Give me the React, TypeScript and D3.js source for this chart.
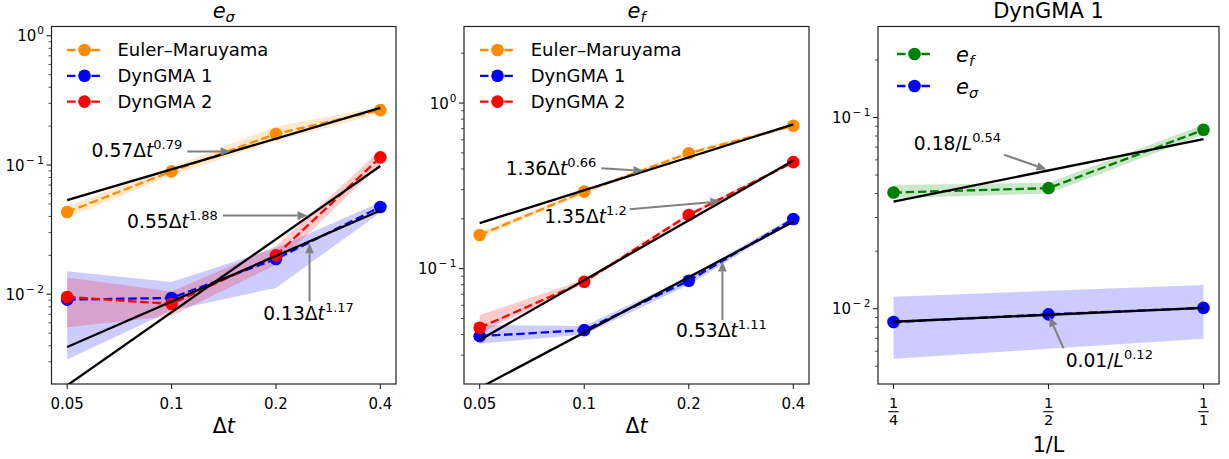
import React from 'react';
import * as d3 from 'd3';

// ---------------- data ----------------
const dt = [0.05, 0.1, 0.2, 0.4];
const dtTickLabels = ['0.05', '0.1', '0.2', '0.4'];
const invL = [0.25, 0.5, 1];
const invLNumerators = ['1', '1', '1'];
const invLDenominators = ['4', '2', '1'];
const dtFitEnds = [0.05, 0.4];
const invLFitEnds = [0.25, 1];

// e_sigma panel
const emSigma = [0.0433, 0.0893, 0.174, 0.266];
const emSigmaLo = [0.039, 0.083, 0.154, 0.25];
const emSigmaHi = [0.048, 0.096, 0.199, 0.283];
const dyn1Sigma = [0.00908, 0.00936, 0.01875, 0.0473];
const dyn1SigmaLo = [0.00312, 0.0075, 0.0112, 0.0428];
const dyn1SigmaHi = [0.01503, 0.01245, 0.0228, 0.0514];
const dyn2Sigma = [0.00953, 0.00841, 0.02, 0.1146];
const dyn2SigmaLo = [0.00555, 0.0068, 0.0169, 0.101];
const dyn2SigmaHi = [0.0135, 0.0105, 0.0235, 0.13];
const emSigmaFit = [0.0535, 0.2764];
const dyn2SigmaFit = [0.00197, 0.0982];
const dyn1SigmaFit = [0.00391, 0.0445];

// e_f panel
const emF = [0.1597, 0.292, 0.498, 0.729];
const emFLo = [0.153, 0.284, 0.485, 0.712];
const emFHi = [0.166, 0.3, 0.511, 0.746];
const dyn1F = [0.0391, 0.0425, 0.0845, 0.1995];
const dyn1FLo = [0.0352, 0.04, 0.08, 0.193];
const dyn1FHi = [0.0456, 0.045, 0.089, 0.206];
const dyn2F = [0.0439, 0.0833, 0.211, 0.4396];
const dyn2FLo = [0.0406, 0.081, 0.205, 0.43];
const dyn2FHi = [0.0524, 0.086, 0.217, 0.45];
const emFFit = [0.1884, 0.7429];
const dyn2FFit = [0.0371, 0.4496];
const dyn1FFit = [0.01906, 0.1917];

// DynGMA 1 vs 1/L panel
const efL = [0.0405, 0.0427, 0.0862];
const efLLo = [0.0379, 0.04, 0.0812];
const efLHi = [0.0444, 0.0456, 0.0916];
const esL = [0.00852, 0.00934, 0.0101];
const esLLo = [0.00547, 0.00617, 0.00697];
const esLHi = [0.01156, 0.01241, 0.0133];
const efLFit = [0.0363, 0.077];
const esLFit = [0.00855, 0.0101];

// fit labels
const sigmaFitCoefs = ['0.57', '0.55', '0.13'];
const sigmaFitExps = ['0.79', '1.88', '1.17'];
const fFitCoefs = ['1.36', '1.35', '0.53'];
const fFitExps = ['0.66', '1.2', '1.11'];
const lFitCoefs = ['0.18', '0.01'];
const lFitExps = ['0.54', '0.12'];

const methodNames = ['Euler\u2013Maruyama', 'DynGMA 1', 'DynGMA 2'];

// ---------------- style ----------------
const FONT = "'DejaVu Sans', sans-serif";
const ORANGE = '#ff8c00';
const BLUE = '#0000ff';
const RED = '#ff0000';
const GREEN = '#008000';
const ARROW = '#808080';
const TOP = 26.5;
const BOTTOM = 384;
const LW = 2.3;
const DASH = '8.5 3.7';
const MR = 6.3;

type Series = { color: string; v: number[]; lo: number[]; hi: number[] };
type Fit = { ys: number[] };
type Ann = {
  kind: 'dt' | 'L';
  coef: string;
  exp: string;
  target: [number, number];
  tail: [number, number];
  anchor: 'start' | 'middle' | 'end';
  dx: number;
  dy: number;
};
type LegendItem = { color: string; label: React.ReactNode };
type PanelCfg = {
  id: string;
  left: number;
  right: number;
  xs: number[];
  pad: number;
  yDomain: [number, number];
  series: Series[];
  fitXs: number[];
  fits: Fit[];
  anns: Ann[];
  legend: { items: LegendItem[]; x0: number; y0: number; step: number; fs: number; textDx: number };
  title: React.ReactNode;
  xlabel: React.ReactNode;
  xlabelY: number;
  fracTicks: boolean;
};

function AnnText({ a, x, y }: { a: Ann; x: number; y: number }) {
  return (
    <text x={x} y={y} textAnchor={a.anchor} fontFamily={FONT} fontSize={18.7} fill="#000">
      {a.kind === 'dt' ? (
        <>
          <tspan>{a.coef}Δ</tspan>
          <tspan fontStyle="italic">t</tspan>
        </>
      ) : (
        <>
          <tspan>{a.coef}/</tspan>
          <tspan fontStyle="italic">L</tspan>
        </>
      )}
      <tspan fontSize={13} dy={-7.8}>
        {a.exp}
      </tspan>
    </text>
  );
}

function Panel({ cfg }: { cfg: PanelCfg }) {
  const x = d3
    .scaleLog()
    .base(2)
    .domain([cfg.xs[0] / cfg.pad, cfg.xs[cfg.xs.length - 1] * cfg.pad])
    .range([cfg.left, cfg.right]);
  const y = d3.scaleLog().domain(cfg.yDomain).range([BOTTOM, TOP]);
  const xs = cfg.xs;

  const area = (s: Series) =>
    d3
      .area<number>()
      .x((_, i) => x(xs[i]))
      .y0((_, i) => y(s.lo[i]))
      .y1((_, i) => y(s.hi[i]))(s.v) as string;
  const line = (vals: number[], xv: number[]) =>
    d3
      .line<number>()
      .x((_, i) => x(xv[i]))
      .y((d) => y(d))(vals) as string;

  // y ticks
  const [ymin, ymax] = cfg.yDomain;
  const yTicks: { v: number; major: boolean; k: number }[] = [];
  for (let k = Math.floor(Math.log10(ymin)); k <= Math.ceil(Math.log10(ymax)); k++) {
    for (let m = 1; m <= 9; m++) {
      const v = m * Math.pow(10, k);
      if (v >= ymin && v <= ymax) yTicks.push({ v, major: m === 1, k });
    }
  }
  const cx = (cfg.left + cfg.right) / 2;
  const clipId = 'clip-' + cfg.id;

  return (
    <g>
      <defs>
        <clipPath id={clipId}>
          <rect x={cfg.left} y={TOP} width={cfg.right - cfg.left} height={BOTTOM - TOP} />
        </clipPath>
      </defs>
      <g clipPath={`url(#${clipId})`}>
        {cfg.series.map((s, i) => (
          <path key={'b' + i} d={area(s)} fill={s.color} fillOpacity={0.2} stroke="none" />
        ))}
        {cfg.series.map((s, i) => (
          <g key={'s' + i}>
            <path d={line(s.v, xs)} fill="none" stroke={s.color} strokeWidth={LW} strokeDasharray={DASH} />
            {s.v.map((d, j) => (
              <circle key={j} cx={x(xs[j])} cy={y(d)} r={MR} fill={s.color} />
            ))}
          </g>
        ))}
        {cfg.fits.map((f, i) => (
          <path key={'f' + i} d={line(f.ys, cfg.fitXs)} fill="none" stroke="#000" strokeWidth={LW} />
        ))}
      </g>
      {/* annotations */}
      {cfg.anns.map((a, i) => {
        const hx0 = x(a.target[0]);
        const hy0 = y(a.target[1]);
        const tx = x(a.tail[0]);
        const ty = y(a.tail[1]);
        const dxv = hx0 - tx;
        const dyv = hy0 - ty;
        const len = Math.hypot(dxv, dyv);
        const ux = dxv / len;
        const uy = dyv / len;
        const hx = hx0 - 2 * ux;
        const hy = hy0 - 2 * uy;
        const bx = hx - 10 * ux;
        const by = hy - 10 * uy;
        const nx = -uy;
        const ny = ux;
        const hw = 4.3;
        return (
          <g key={'a' + i}>
            <line x1={tx} y1={ty} x2={bx} y2={by} stroke={ARROW} strokeWidth={2} />
            <polygon
              points={`${hx},${hy} ${bx + hw * nx},${by + hw * ny} ${bx - hw * nx},${by - hw * ny}`}
              fill={ARROW}
            />
            <AnnText a={a} x={tx + a.dx} y={ty + a.dy} />
          </g>
        );
      })}
      {/* legend */}
      {cfg.legend.items.map((it, i) => {
        const ly = cfg.legend.y0 + i * cfg.legend.step;
        const x0 = cfg.legend.x0;
        return (
          <g key={'l' + i}>
            <line x1={x0} x2={x0 + 35} y1={ly} y2={ly} stroke={it.color} strokeWidth={LW} strokeDasharray={DASH} />
            <circle cx={x0 + 17.5} cy={ly} r={MR} fill={it.color} />
            <text
              x={x0 + cfg.legend.textDx}
              y={ly + cfg.legend.fs * 0.36}
              fontFamily={FONT}
              fontSize={cfg.legend.fs}
              fill="#000"
            >
              {it.label}
            </text>
          </g>
        );
      })}
      {/* spines */}
      <rect
        x={cfg.left}
        y={TOP}
        width={cfg.right - cfg.left}
        height={BOTTOM - TOP}
        fill="none"
        stroke="#222"
        strokeWidth={1.2}
      />
      {/* y ticks */}
      {yTicks.map((t, i) => (
        <g key={'yt' + i}>
          <line
            x1={cfg.left}
            x2={cfg.left - (t.major ? 5 : 3)}
            y1={y(t.v)}
            y2={y(t.v)}
            stroke="#222"
            strokeWidth={t.major ? 1.1 : 0.8}
          />
          {t.major && (
            <text x={cfg.left - 7.5} y={y(t.v) + 5.5} textAnchor="end" fontFamily={FONT} fontSize={15} fill="#000">
              <tspan>10</tspan>
              {t.k === 0 ? (
                <tspan fontSize={10.5} dx={1} dy={-7}>
                  0
                </tspan>
              ) : (
                <>
                  <tspan fontSize={10.5} dx={1.5} dy={-7}>
                    {'\u2212'}
                  </tspan>
                  <tspan fontSize={10.5} dx={2.5}>
                    {String(Math.abs(t.k))}
                  </tspan>
                </>
              )}
            </text>
          )}
        </g>
      ))}
      {/* x ticks */}
      {xs.map((v, i) => (
        <g key={'xt' + i}>
          <line x1={x(v)} x2={x(v)} y1={BOTTOM} y2={BOTTOM + 5} stroke="#222" strokeWidth={1.1} />
          {cfg.fracTicks ? (
            <g>
              <text x={x(v)} y={BOTTOM + 23.5} textAnchor="middle" fontFamily={FONT} fontSize={14.5} fill="#000">
                {invLNumerators[i]}
              </text>
              <line x1={x(v) - 5.2} x2={x(v) + 5.2} y1={BOTTOM + 27.7} y2={BOTTOM + 27.7} stroke="#000" strokeWidth={1.1} />
              <text x={x(v)} y={BOTTOM + 41} textAnchor="middle" fontFamily={FONT} fontSize={14.5} fill="#000">
                {invLDenominators[i]}
              </text>
            </g>
          ) : (
            <text x={x(v)} y={BOTTOM + 24.5} textAnchor="middle" fontFamily={FONT} fontSize={15} fill="#000">
              {dtTickLabels[i]}
            </text>
          )}
        </g>
      ))}
      {/* title */}
      <text x={cx} y={18} textAnchor="middle" fontFamily={FONT} fontSize={21} fill="#000">
        {cfg.title}
      </text>
      <text x={cx} y={cfg.xlabelY} textAnchor="middle" fontFamily={FONT} fontSize={20.5} fill="#000">
        {cfg.xlabel}
      </text>
    </g>
  );
}

const sigmaTitle = (
  <>
    <tspan fontStyle="italic">e</tspan>
    <tspan fontStyle="italic" fontSize={14.5} dy={3.5}>
      σ
    </tspan>
  </>
);
const fTitle = (
  <>
    <tspan fontStyle="italic">e</tspan>
    <tspan fontStyle="italic" fontSize={14.5} dy={3.5}>
      f
    </tspan>
  </>
);
const dtLabel = (
  <>
    <tspan>Δ</tspan>
    <tspan fontStyle="italic">t</tspan>
  </>
);

const panels: PanelCfg[] = [
  {
    id: 'sigma',
    left: 51.5,
    right: 396,
    xs: dt,
    pad: Math.pow(2, 0.15),
    yDomain: [0.00202, 1.18],
    series: [
      { color: ORANGE, v: emSigma, lo: emSigmaLo, hi: emSigmaHi },
      { color: BLUE, v: dyn1Sigma, lo: dyn1SigmaLo, hi: dyn1SigmaHi },
      { color: RED, v: dyn2Sigma, lo: dyn2SigmaLo, hi: dyn2SigmaHi },
    ],
    fitXs: dtFitEnds,
    fits: [{ ys: emSigmaFit }, { ys: dyn2SigmaFit }, { ys: dyn1SigmaFit }],
    anns: [
      { kind: 'dt', coef: sigmaFitCoefs[0], exp: sigmaFitExps[0], target: [0.15, 0.1273], tail: [0.111, 0.1273], anchor: 'end', dx: -5, dy: 5.5 },
      { kind: 'dt', coef: sigmaFitCoefs[1], exp: sigmaFitExps[1], target: [0.25, 0.0406], tail: [0.1405, 0.0406], anchor: 'end', dx: -5, dy: 12 },
      { kind: 'dt', coef: sigmaFitCoefs[2], exp: sigmaFitExps[2], target: [0.25, 0.02567], tail: [0.25, 0.00881], anchor: 'middle', dx: -1, dy: 18.5 },
    ],
    legend: {
      items: [
        { color: ORANGE, label: methodNames[0] },
        { color: BLUE, label: methodNames[1] },
        { color: RED, label: methodNames[2] },
      ],
      x0: 67,
      y0: 50,
      step: 25.8,
      fs: 18,
      textDx: 50.5,
    },
    title: sigmaTitle,
    xlabel: dtLabel,
    xlabelY: 433,
    fracTicks: false,
  },
  {
    id: 'f',
    left: 464,
    right: 809,
    xs: dt,
    pad: Math.pow(2, 0.15),
    yDomain: [0.0201, 2.9],
    series: [
      { color: ORANGE, v: emF, lo: emFLo, hi: emFHi },
      { color: BLUE, v: dyn1F, lo: dyn1FLo, hi: dyn1FHi },
      { color: RED, v: dyn2F, lo: dyn2FLo, hi: dyn2FHi },
    ],
    fitXs: dtFitEnds,
    fits: [{ ys: emFFit }, { ys: dyn2FFit }, { ys: dyn1FFit }],
    anns: [
      { kind: 'dt', coef: fFitCoefs[0], exp: fFitExps[0], target: [0.15, 0.3888], tail: [0.112, 0.404], anchor: 'end', dx: -5, dy: 7 },
      { kind: 'dt', coef: fFitCoefs[1], exp: fFitExps[1], target: [0.25, 0.2558], tail: [0.1352, 0.2284], anchor: 'end', dx: -3, dy: 14 },
      { kind: 'dt', coef: fFitCoefs[2], exp: fFitExps[2], target: [0.25, 0.1137], tail: [0.25, 0.0489], anchor: 'middle', dx: -1, dy: 17 },
    ],
    legend: {
      items: [
        { color: ORANGE, label: methodNames[0] },
        { color: BLUE, label: methodNames[1] },
        { color: RED, label: methodNames[2] },
      ],
      x0: 480,
      y0: 50,
      step: 25.8,
      fs: 18,
      textDx: 50.7,
    },
    title: fTitle,
    xlabel: dtLabel,
    xlabelY: 433,
    fracTicks: false,
  },
  {
    id: 'L',
    left: 878,
    right: 1219,
    xs: invL,
    pad: Math.pow(2, 0.1),
    yDomain: [0.00404, 0.299],
    series: [
      { color: GREEN, v: efL, lo: efLLo, hi: efLHi },
      { color: BLUE, v: esL, lo: esLLo, hi: esLHi },
    ],
    fitXs: invLFitEnds,
    fits: [{ ys: efLFit }, { ys: esLFit }],
    anns: [
      { kind: 'L', coef: lFitCoefs[0], exp: lFitExps[0], target: [0.5, 0.053], tail: [0.41, 0.0638], anchor: 'end', dx: -3, dy: -5 },
      { kind: 'L', coef: lFitCoefs[1], exp: lFitExps[1], target: [0.5, 0.00929], tail: [0.535, 0.00621], anchor: 'start', dx: 2, dy: 18.5 },
    ],
    legend: {
      items: [
        {
          color: GREEN,
          label: (
            <>
              <tspan fontStyle="italic">e</tspan>
              <tspan fontStyle="italic" fontSize={14.5} dy={4}>
                f
              </tspan>
            </>
          ),
        },
        {
          color: BLUE,
          label: (
            <>
              <tspan fontStyle="italic">e</tspan>
              <tspan fontStyle="italic" fontSize={14.5} dy={4}>
                σ
              </tspan>
            </>
          ),
        },
      ],
      x0: 897,
      y0: 54,
      step: 32,
      fs: 21,
      textDx: 59,
    },
    title: <tspan>DynGMA 1</tspan>,
    xlabel: <tspan>1/L</tspan>,
    xlabelY: 451.5,
    fracTicks: true,
  },
];

export default function App() {
  return (
    <svg
      width={1229}
      height={459}
      viewBox="0 0 1229 459"
      style={{ position: 'absolute', left: 0, top: 0, background: '#fff' }}
    >
      <rect x={0} y={0} width={1229} height={459} fill="#fff" />
      {panels.map((p) => (
        <Panel key={p.id} cfg={p} />
      ))}
    </svg>
  );
}
